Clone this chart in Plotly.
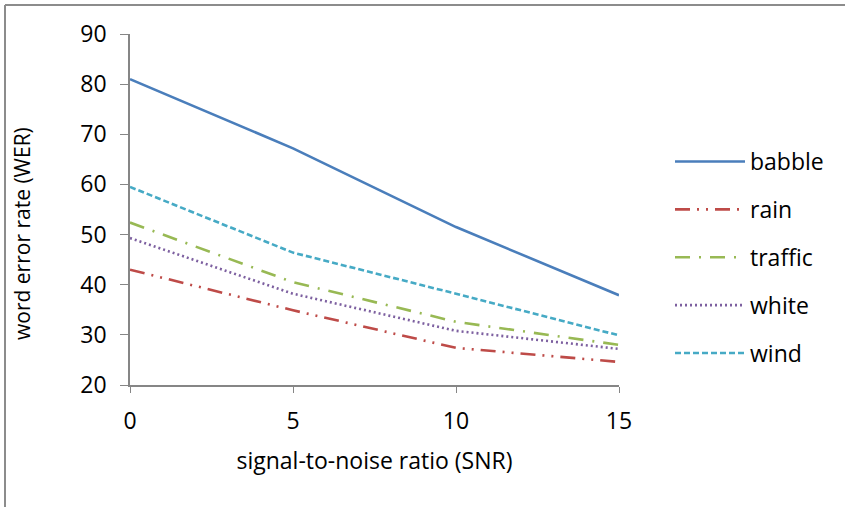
import plotly.graph_objects as go

# SNR levels (dB) on the x axis
snr = [0, 5, 10, 15]

# Word error rate per noise type
babble = [81.0, 67.2, 51.5, 37.9]
rain = [43.0, 34.9, 27.4, 24.6]
traffic = [52.4, 40.5, 32.6, 28.0]
white = [49.3, 38.2, 30.8, 27.2]
wind = [59.5, 46.4, 38.2, 29.9]

y_ticks = [20, 30, 40, 50, 60, 70, 80, 90]
x_ticks = [0, 5, 10, 15]

series = [
    ("babble", babble, "#4A7EBB", "solid"),
    ("rain", rain, "#BE4B48", "15px,7px,2px,7px,2px,7px"),
    ("traffic", traffic, "#98B954", "15px,9px,2px,9px"),
    ("white", white, "#7D60A0", "2px,3px"),
    ("wind", wind, "#46AAC5", "6px,3px"),
]

W, H = 845, 507
L, R, T, B = 130, 226, 34, 122
PW, PH = W - L - R, H - T - B

FAMILY = "Open Sans, Noto Sans, sans-serif"
BLACK = "#000000"

fig = go.Figure()
for name, vals, color, dash in series:
    fig.add_trace(go.Scatter(
        x=snr, y=vals, name=name, mode="lines", legendgroup=name,
        line=dict(color=color, width=2.6, dash=dash),
    ))

axis_color = "#868686"

fig.update_layout(
    width=W, height=H,
    margin=dict(l=L, r=R, t=T, b=B),
    paper_bgcolor="white", plot_bgcolor="white",
    font=dict(family=FAMILY, size=23, color=BLACK),
    showlegend=True,
    legend=dict(
        x=(670 - L) / PW, y=(H - B - 140) / PH,
        xanchor="left", yanchor="top",
        font=dict(family=FAMILY, size=23, color=BLACK),
        tracegroupgap=15, itemwidth=70,
        bgcolor="rgba(0,0,0,0)",
    ),
    xaxis=dict(
        range=[0, 15], tickvals=x_ticks, ticks="outside", ticklen=6,
        tickcolor=axis_color, showline=True, linecolor=axis_color, linewidth=1.5,
        showgrid=False, zeroline=False, ticklabelstandoff=9,
        tickfont=dict(family=FAMILY, size=23, color=BLACK),
        title=dict(text="signal-to-noise ratio (SNR)", standoff=18,
                   font=dict(family=FAMILY, size=23, color=BLACK)),
    ),
    yaxis=dict(
        range=[20, 90], tickvals=y_ticks, ticks="outside", ticklen=8,
        tickcolor=axis_color, showline=True, linecolor=axis_color, linewidth=1.5,
        showgrid=False, zeroline=False, ticklabelstandoff=9,
        tickfont=dict(family=FAMILY, size=23, color=BLACK),
    ),
    annotations=[
        dict(text="word error rate (WER)", textangle=-90, showarrow=False,
             xref="paper", yref="paper",
             x=(22 - L) / PW, y=(H - B - 234) / PH,
             xanchor="center", yanchor="middle",
             font=dict(family=FAMILY, size=21, color=BLACK)),
    ],
    shapes=[
        # chart frame edges (left and top)
        dict(type="line", xref="paper", yref="paper",
             x0=(5 - L) / PW, x1=(5 - L) / PW,
             y0=(H - B - H) / PH, y1=(H - B - 5) / PH,
             line=dict(color="#8C8C8C", width=2)),
        dict(type="line", xref="paper", yref="paper",
             x0=(5 - L) / PW, x1=(W - L) / PW,
             y0=(H - B - 5) / PH, y1=(H - B - 5) / PH,
             line=dict(color="#8C8C8C", width=2)),
    ],
)

fig.write_html("out.html")
